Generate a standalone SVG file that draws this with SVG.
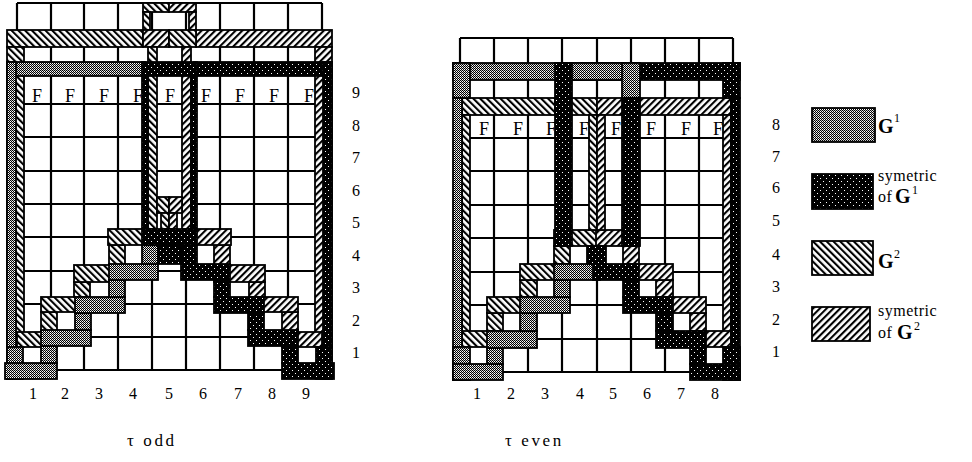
<svg xmlns="http://www.w3.org/2000/svg" width="972" height="462" viewBox="0 0 972 462">
<style>
.grid{fill:none;stroke:#000;stroke-width:2.2}
.h1{fill:url(#ph1);stroke:#000;stroke-width:1.8}
.h2{fill:url(#ph2);stroke:#000;stroke-width:1.8}
.d1{fill:url(#pd1);stroke:#000;stroke-width:1.8}
.d2{fill:url(#pd2);stroke:#000;stroke-width:1.8}
.t{font-family:"Liberation Serif","Times New Roman",serif;font-size:16px;fill:#000;text-anchor:middle}
.f{font-family:"Liberation Serif","Times New Roman",serif;font-size:18px;fill:#000;text-anchor:middle}
.lg{font-family:"Liberation Serif","Times New Roman",serif;font-size:16px;letter-spacing:0.5px;fill:#000}
.gb{font-family:"Liberation Serif","Times New Roman",serif;font-size:20px;font-weight:bold;fill:#000}
.sup{font-family:"Liberation Serif","Times New Roman",serif;font-size:12px;fill:#000}
.cap{font-family:"Liberation Serif","Times New Roman",serif;font-size:17px;letter-spacing:2.6px;fill:#000}
</style>
<defs>
<pattern id="pd1" width="2" height="2" patternUnits="userSpaceOnUse"><rect width="2" height="2" fill="#fff"/><rect width="1" height="1" fill="#000"/><rect x="1" y="1" width="1" height="1" fill="#000"/><rect x="1" y="0" width="1" height="1" fill="#000" opacity="0.25"/></pattern>
<pattern id="pd2" width="6" height="6" patternUnits="userSpaceOnUse"><rect width="6" height="6" fill="#000"/><rect x="1" y="1" width="1" height="1" fill="#fff"/><rect x="4" y="4" width="1" height="1" fill="#fff"/></pattern>
<pattern id="ph1" width="4.8" height="4.8" patternUnits="userSpaceOnUse" patternTransform="rotate(-45)"><rect width="4.8" height="4.8" fill="#fff"/><rect width="2.1" height="4.8" fill="#000"/></pattern>
<pattern id="ph2" width="4.8" height="4.8" patternUnits="userSpaceOnUse" patternTransform="rotate(45)"><rect width="4.8" height="4.8" fill="#fff"/><rect width="2.1" height="4.8" fill="#000"/></pattern>
</defs>
<rect width="972" height="462" fill="#fff"/>

<g id="tau-odd">
<g id="odd-grid">
<path class="grid" d="M17,3H322M17,37H322M17,70H322M17,104H322M17,137H322M17,171H322M17,204H322M17,237H322M17,271H322M17,304H322M17,337H322M17,370H322M17,3V370M51,3V370M84,3V370M118,3V370M152,3V370M186,3V370M220,3V370M254,3V370M288,3V370M322,3V370"/>
</g>
<g id="odd-F" class="f">
<text x="37" y="102">F</text><text x="70" y="102">F</text><text x="104" y="102">F</text><text x="138" y="102">F</text><text x="170" y="102">F</text><text x="206" y="102">F</text><text x="240" y="102">F</text><text x="274" y="102">F</text><text x="309" y="102">F</text>
</g>
<g id="odd-connectors">
<rect class="h1" x="7" y="30" width="136" height="17"/>
<rect class="h1" x="7" y="47" width="17" height="300"/>
<rect class="h1" x="17" y="332" width="40" height="15"/>
<rect class="h1" x="41" y="312" width="16" height="20"/>
<rect class="h1" x="41" y="297" width="49" height="15"/>
<rect class="h1" x="74" y="282" width="16" height="15"/>
<rect class="h1" x="74" y="265" width="51" height="17"/>
<rect class="h1" x="109" y="245" width="16" height="20"/>
<rect class="h1" x="108" y="229" width="42" height="16"/>
<rect class="h2" x="196" y="30" width="136" height="17"/>
<rect class="h2" x="315" y="47" width="17" height="300"/>
<rect class="h2" x="282" y="332" width="40" height="15"/>
<rect class="h2" x="282" y="312" width="16" height="20"/>
<rect class="h2" x="249" y="297" width="49" height="15"/>
<rect class="h2" x="249" y="282" width="16" height="15"/>
<rect class="h2" x="214" y="265" width="51" height="17"/>
<rect class="h2" x="214" y="245" width="16" height="20"/>
<rect class="h2" x="189" y="229" width="42" height="16"/>
<rect class="d1" x="7" y="62" width="138" height="14"/>
<rect class="d1" x="7" y="62" width="9" height="317"/>
<rect class="d1" x="7" y="347" width="16" height="32"/>
<rect class="d1" x="5" y="363" width="52" height="16"/>
<rect class="d1" x="41" y="346" width="16" height="17"/>
<rect class="d1" x="41" y="330" width="50" height="16"/>
<rect class="d1" x="75" y="313" width="16" height="17"/>
<rect class="d1" x="75" y="297" width="50" height="16"/>
<rect class="d1" x="109" y="280" width="16" height="17"/>
<rect class="d1" x="109" y="264" width="49" height="16"/>
<rect class="d1" x="142" y="245" width="16" height="19"/>
<rect class="d2" x="194" y="62" width="138" height="14"/>
<rect class="d2" x="323" y="62" width="9" height="317"/>
<rect class="d2" x="316" y="347" width="16" height="32"/>
<rect class="d2" x="282" y="363" width="52" height="16"/>
<rect class="d2" x="282" y="346" width="16" height="17"/>
<rect class="d2" x="248" y="330" width="50" height="16"/>
<rect class="d2" x="248" y="313" width="16" height="17"/>
<rect class="d2" x="214" y="297" width="50" height="16"/>
<rect class="d2" x="214" y="280" width="16" height="17"/>
<rect class="d2" x="181" y="264" width="49" height="16"/>
<rect class="d2" x="181" y="245" width="16" height="19"/>
<rect class="h1" x="143" y="3" width="26" height="9"/>
<rect class="h2" x="169" y="3" width="27" height="9"/>
<rect class="h1" x="143" y="12" width="7" height="18"/>
<rect class="h2" x="189" y="12" width="7" height="18"/>
<rect class="h2" x="143" y="30" width="26" height="17"/>
<rect class="h1" x="169" y="30" width="27" height="17"/>
<rect class="h1" x="148" y="47" width="9" height="182"/>
<rect class="h2" x="182" y="47" width="9" height="182"/>
<rect class="d2" x="142" y="62" width="55" height="14"/>
<rect class="d2" x="142" y="76" width="6" height="153"/>
<rect class="d2" x="191" y="76" width="6" height="153"/>
<rect class="h1" x="157" y="197" width="12" height="16"/>
<rect class="h2" x="169" y="197" width="13" height="16"/>
<rect class="h1" x="161" y="213" width="8" height="16"/>
<rect class="h2" x="169" y="213" width="8" height="16"/>
<rect class="d2" x="142" y="229" width="55" height="16"/>
<rect class="d2" x="158" y="245" width="23" height="19"/>
</g>
<g id="odd-labels" class="t">
<text x="356" y="98">9</text><text x="356" y="131">8</text><text x="356" y="163">7</text><text x="356" y="196">6</text><text x="356" y="228">5</text><text x="356" y="261">4</text><text x="356" y="293">3</text><text x="356" y="326">2</text><text x="356" y="358">1</text>
<text x="33" y="399">1</text><text x="65" y="399">2</text><text x="99" y="399">3</text><text x="133" y="399">4</text><text x="169" y="399">5</text><text x="203" y="399">6</text><text x="238" y="399">7</text><text x="272" y="399">8</text><text x="306" y="399">9</text>
</g>
<text id="cap-odd" class="cap" x="127" y="446">τ odd</text>
</g>

<g id="tau-even">
<g id="even-grid">
<path class="grid" d="M460,38H733M460,71H733M460,104H733M460,138H733M460,171H733M460,205H733M460,238H733M460,272H733M460,305H733M460,339H733M460,372H733M460,38V372M494,38V372M528,38V372M562,38V372M597,38V372M631,38V372M665,38V372M699,38V372M733,38V372"/>
</g>
<g id="even-F" class="f">
<text x="484" y="135">F</text><text x="518" y="135">F</text><text x="551" y="135">F</text><text x="584" y="135">F</text><text x="616" y="135">F</text><text x="651" y="135">F</text><text x="686" y="135">F</text><text x="718" y="135">F</text>
</g>
<g id="even-connectors">
<rect class="h1" x="462" y="98" width="93" height="17"/>
<rect class="h1" x="462" y="115" width="8" height="232"/>
<rect class="h1" x="462" y="331" width="41" height="16"/>
<rect class="h1" x="487" y="313" width="16" height="18"/>
<rect class="h1" x="487" y="297" width="50" height="16"/>
<rect class="h1" x="520" y="280" width="17" height="17"/>
<rect class="h1" x="520" y="264" width="50" height="16"/>
<rect class="h1" x="554" y="246" width="16" height="18"/>
<rect class="h1" x="554" y="230" width="43" height="16"/>
<rect class="h2" x="638" y="98" width="93" height="17"/>
<rect class="h2" x="723" y="115" width="8" height="232"/>
<rect class="h2" x="690" y="331" width="41" height="16"/>
<rect class="h2" x="690" y="313" width="16" height="18"/>
<rect class="h2" x="656" y="297" width="50" height="16"/>
<rect class="h2" x="656" y="280" width="17" height="17"/>
<rect class="h2" x="623" y="264" width="50" height="16"/>
<rect class="h2" x="623" y="246" width="16" height="18"/>
<rect class="h2" x="596" y="230" width="43" height="16"/>
<rect class="d2" x="562" y="63" width="178" height="17"/>
<rect class="d1" x="453" y="63" width="178" height="17"/>
<rect class="d1" x="622" y="63" width="18" height="35"/>
<rect class="d1" x="453" y="63" width="17" height="35"/>
<rect class="d1" x="453" y="98" width="9" height="282"/>
<rect class="d1" x="453" y="347" width="17" height="33"/>
<rect class="d1" x="453" y="364" width="50" height="16"/>
<rect class="d1" x="487" y="348" width="16" height="16"/>
<rect class="d1" x="487" y="331" width="50" height="17"/>
<rect class="d1" x="520" y="313" width="17" height="18"/>
<rect class="d1" x="520" y="297" width="50" height="16"/>
<rect class="d1" x="554" y="280" width="16" height="17"/>
<rect class="d1" x="554" y="264" width="46" height="16"/>
<rect class="d2" x="723" y="63" width="17" height="35"/>
<rect class="d2" x="731" y="98" width="9" height="282"/>
<rect class="d2" x="723" y="347" width="17" height="33"/>
<rect class="d2" x="690" y="364" width="50" height="16"/>
<rect class="d2" x="690" y="348" width="16" height="16"/>
<rect class="d2" x="656" y="331" width="50" height="17"/>
<rect class="d2" x="656" y="313" width="17" height="18"/>
<rect class="d2" x="623" y="297" width="50" height="16"/>
<rect class="d2" x="623" y="280" width="16" height="17"/>
<rect class="d2" x="593" y="264" width="46" height="16"/>
<rect class="d2" x="587" y="246" width="19" height="18"/>
<rect class="d2" x="555" y="63" width="17" height="183"/>
<rect class="d2" x="622" y="98" width="18" height="148"/>
<rect class="h1" x="572" y="98" width="25" height="17"/>
<rect class="h2" x="597" y="98" width="25" height="17"/>
<rect class="h1" x="589" y="115" width="8" height="115"/>
<rect class="h2" x="597" y="115" width="8" height="115"/>
</g>
<g id="even-labels" class="t">
<text x="776" y="130">8</text><text x="776" y="162">7</text><text x="776" y="193">6</text><text x="776" y="226">5</text><text x="776" y="260">4</text><text x="776" y="292">3</text><text x="776" y="325">2</text><text x="776" y="357">1</text>
<text x="477" y="399">1</text><text x="511" y="399">2</text><text x="545" y="399">3</text><text x="580" y="399">4</text><text x="613" y="399">5</text><text x="647" y="399">6</text><text x="681" y="399">7</text><text x="715" y="399">8</text>
</g>
<text id="cap-even" class="cap" x="505" y="446">τ even</text>
</g>

<g id="legend">
<g id="leg-g1"><rect class="d1" x="812" y="108" width="63" height="34"/><text class="gb" x="878" y="133">G</text><text class="sup" x="894" y="122">1</text></g>
<g id="leg-sg1"><rect class="d2" x="812" y="174" width="61" height="35"/><text class="lg" x="878" y="181">symetric</text><text class="lg" x="878" y="202">of</text><text class="gb" x="895" y="203">G</text><text class="sup" x="912" y="194">1</text></g>
<g id="leg-g2"><rect class="h1" x="812" y="241" width="61" height="34"/><text class="gb" x="878" y="268">G</text><text class="sup" x="894" y="258">2</text></g>
<g id="leg-sg2"><rect class="h2" x="812" y="307" width="58" height="34"/><text class="lg" x="878" y="316">symetric</text><text class="lg" x="878" y="338">of</text><text class="gb" x="897" y="339">G</text><text class="sup" x="914" y="330">2</text></g>
</g>
</svg>
